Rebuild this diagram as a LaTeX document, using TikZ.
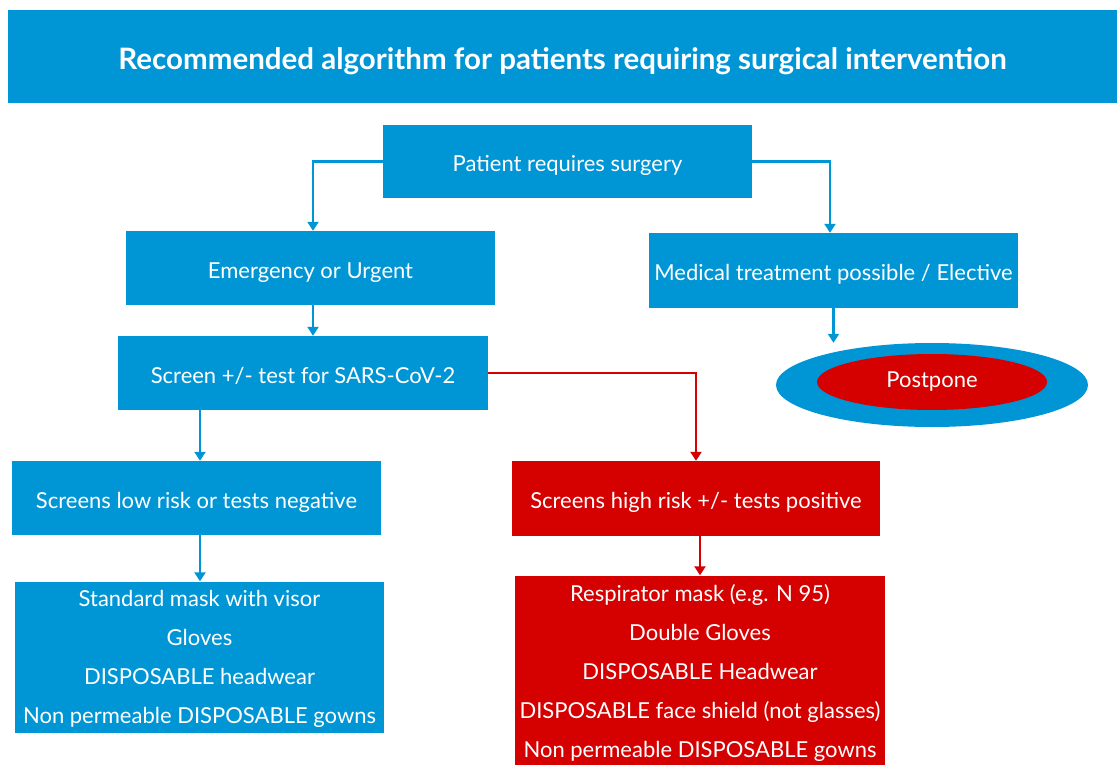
\documentclass[tikz,border=0pt]{standalone}
\usepackage{fontspec}
\setmainfont{Lato}
\usetikzlibrary{arrows.meta,shapes.geometric}
\definecolor{cblue}{RGB}{0,150,214}
\definecolor{cred}{RGB}{213,0,0}
\tikzset{
  box/.style={rectangle, fill=cblue, text=white, inner sep=0pt, align=center,
    font=\fontsize{22}{39}\selectfont},
  one/.style={text height=20pt, text depth=0pt},
  redbox/.style={box, fill=cred},
  arr/.style={draw=cblue, line width=2.8pt, -{Triangle[width=11pt,length=9pt]}},
  rarr/.style={arr, draw=cred, -{Triangle[width=11pt,length=9pt]}, color=cred},
}
\begin{document}
\begin{tikzpicture}[x=1pt,y=-1pt]
\clip (0,0) rectangle (1117,765);
\fill[white] (0,0) rectangle (1117,765);
% title
\node[box, minimum width=1109, minimum height=93, text height=27pt, text depth=0pt, font=\fontsize{29.5}{34}\bfseries\selectfont] (title) at (562.5,56.5) {Recommended algorithm for patients requiring surgical intervention};
% nodes
\node[box, one, minimum width=369, minimum height=73] (patient) at (567.5,161.5) {Patient requires surgery};
\node[box, one, minimum width=369, minimum height=74] (emerg) at (310.5,268) {Emergency or Urgent};
\node[box, one, minimum width=369, minimum height=75] (med) at (833.5,270.5) {Medical treatment possible / Elective};
\node[box, one, minimum width=370, minimum height=74] (screen) at (303,373) {Screen +/- test for SARS-CoV-2};
\node[box, one, minimum width=369, minimum height=74] (low) at (196.5,498) {Screens low risk or tests negative};
\node[redbox, one, minimum width=368, minimum height=75] (high) at (696,498.5) {Screens high risk +/- tests positive};
\node[ellipse, fill=cblue, minimum width=312, minimum height=84, inner sep=0pt] (outer) at (932,385) {};
\node[ellipse, fill=cred, text=white, minimum width=230, minimum height=56, inner sep=0pt, font=\fontsize{22}{26}\selectfont] (post) at (932,382) {Postpone};
\node[box, minimum width=369, minimum height=151, text depth=0pt] (std) at (199.5,657) {Standard mask with visor\\Gloves\\DISPOSABLE headwear\\Non permeable DISPOSABLE gowns};
\node[redbox, minimum width=370, minimum height=195] (resp) at (700,673) {Respirator mask (e.g. N 95)\\Double Gloves\\DISPOSABLE Headwear\\DISPOSABLE face shield (not glasses)\\Non permeable DISPOSABLE gowns};
% connectors
\draw[arr] (patient.west) -| ([xshift=2.5pt]emerg.north);
\draw[arr] (patient.east) -| ([xshift=-3.5pt]med.north);
\draw[arr] ([xshift=2.5pt]emerg.south) -- ([xshift=2.5pt]emerg.south |- screen.north);
\draw[arr] ([xshift=3.5pt]low.north |- screen.south) -- ([xshift=3.5pt]low.north);
\draw[rarr] (screen.east) -| (high.north);
\draw[arr] (med.south) -- (med.south |- outer.north);
\draw[arr] ([xshift=3.5pt]low.south) -- ([xshift=3.5pt]low.south |- std.north);
\draw[rarr] ([xshift=4pt]high.south) -- ([xshift=4pt]high.south |- resp.north);
\end{tikzpicture}
\end{document}
